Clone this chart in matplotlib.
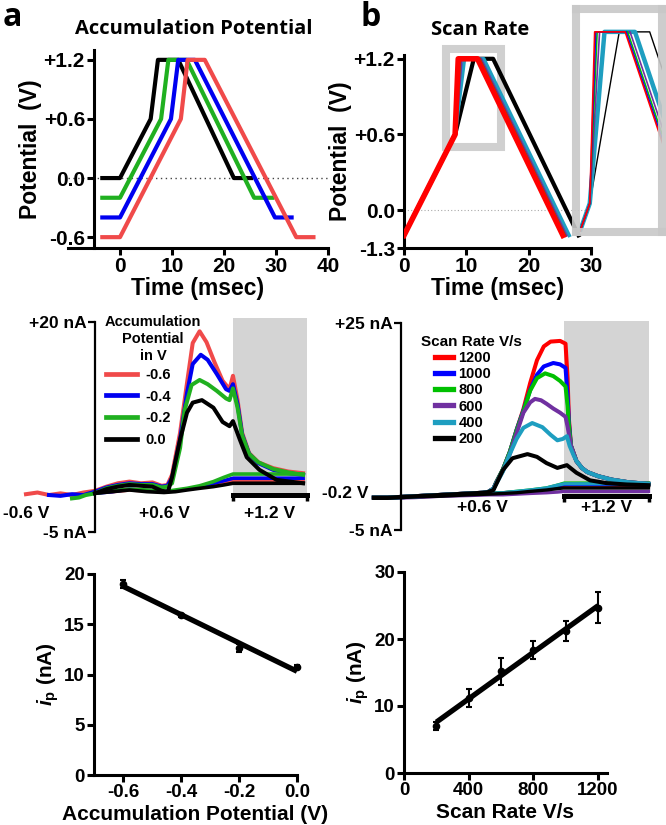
import numpy as np
import matplotlib.pyplot as plt
from matplotlib.patches import Rectangle

plt.rcParams['font.family'] = ['Liberation Sans', 'DejaVu Sans']
plt.rcParams['font.weight'] = 'bold'
plt.rcParams['axes.labelweight'] = 'bold'
plt.rcParams['mathtext.fontset'] = 'custom'
plt.rcParams['mathtext.rm'] = 'Liberation Sans:bold'
plt.rcParams['mathtext.it'] = 'Liberation Sans:italic:bold'
plt.rcParams['mathtext.bf'] = 'Liberation Sans:bold'

# ---------------- data ----------------
# a: accumulation potentials
acc_labels = ['-0.6', '-0.4', '-0.2', '0.0']
acc_colors = ['#f04a4a', '#0000f0', '#20b020', '#000000']

# a top: waveform breakpoints (msec / V)
wave_a_t = [[-3.4, 0.0, 11.7, 13.0, 16.3, 33.9, 37.2],
            [-3.4, 0.0, 9.8, 11.2, 14.4, 29.8, 33.0],
            [-3.4, 0.0, 7.9, 9.3, 12.8, 25.8, 29.3],
            [-3.4, 0.0, 5.9, 7.3, 11.2, 21.9, 25.2]]
wave_a_v = [[-0.6, -0.6, 0.6, 1.2, 1.2, -0.6, -0.6],
            [-0.4, -0.4, 0.6, 1.2, 1.2, -0.4, -0.4],
            [-0.2, -0.2, 0.6, 1.2, 1.2, -0.2, -0.2],
            [0.0, 0.0, 0.6, 1.2, 1.2, 0.0, 0.0]]

# b: scan rates
rate_labels = ['1200', '1000', '800', '600', '400', '200']
rate_colors = ['#ff0000', '#0000ff', '#00c000', '#7030a0', '#1e9ec0', '#000000']
wave_b_t = [[0.0, 8.2, 8.7, 11.8, 25.5],
            [0.0, 8.2, 8.8, 11.9, 25.6],
            [0.0, 8.2, 8.95, 12.05, 25.75],
            [0.0, 8.2, 9.2, 12.3, 26.0],
            [0.0, 8.2, 9.7, 12.8, 26.5],
            [0.0, 8.2, 11.2, 14.3, 28.0]]
wave_b_v = [-0.2, 0.6, 1.2, 1.2, -0.2]
zoom_t = (6.8, 15.5)
zoom_v = (0.5, 1.28)

# a middle: voltammograms (V, nA), hold at +1.2 V shown from 1.2 to 1.84
red_a_v = [-0.60, -0.50, -0.40, -0.30, -0.20, -0.10, 0.00, 0.10, 0.20, 0.30, 0.40, 0.50, 0.58, 0.63,
           0.67, 0.74, 0.80, 0.85, 0.91, 0.97, 1.04, 1.11, 1.17, 1.20, 1.24, 1.28, 1.34, 1.42, 1.55, 1.68, 1.81]
red_a_i = [-0.5, -0.3, -0.6, -0.4, -0.6, -0.3, -0.1, 0.4, 0.8, 1.0, 0.8, 0.9, 0.5, 0.6,
           1.8, 6.8, 12.7, 17.5, 18.9, 17.6, 15.2, 13.0, 12.0, 13.6, 10.7, 6.8, 4.4, 3.3, 2.6, 2.2, 2.0]
blue_a_v = [-0.40, -0.30, -0.20, -0.10, 0.00, 0.10, 0.20, 0.30, 0.40, 0.50, 0.58, 0.63, 0.67, 0.74,
            0.80, 0.85, 0.92, 0.98, 1.06, 1.14, 1.17, 1.20, 1.24, 1.28, 1.34, 1.42, 1.55, 1.68, 1.81]
blue_a_i = [-0.6, -0.7, -0.5, -0.6, -0.2, 0.3, 0.6, 0.8, 0.7, 0.7, 0.4, 0.5, 1.4, 6.0,
            11.5, 15.0, 16.1, 15.5, 13.8, 12.0, 11.8, 12.6, 10.2, 6.6, 4.3, 3.2, 2.4, 2.0, 1.8]
green_a_v = [-0.20, -0.14, -0.08, 0.00, 0.10, 0.20, 0.30, 0.40, 0.50, 0.58, 0.63, 0.67, 0.74, 0.78,
             0.84, 0.91, 0.98, 1.06, 1.14, 1.17, 1.20, 1.24, 1.28, 1.34, 1.42, 1.55, 1.68, 1.81]
green_a_i = [-1.0, -0.9, -0.6, -0.4, 0.2, 0.5, 0.7, 0.6, 0.6, 0.3, 0.4, 0.8, 5.0, 9.5,
             12.5, 13.1, 12.6, 11.8, 10.9, 10.7, 12.1, 9.8, 6.5, 4.3, 3.3, 2.5, 2.1, 1.8]
black_a_v = [0.00, 0.10, 0.20, 0.30, 0.40, 0.50, 0.58, 0.635, 0.67, 0.74, 0.80, 0.85, 0.93, 1.03,
             1.11, 1.17, 1.20, 1.26, 1.32, 1.43, 1.58, 1.81]
black_a_i = [-0.4, 0.1, 0.4, 0.6, 0.5, 0.4, -0.1, -0.2, 1.5, 6.0, 9.2, 10.4, 10.7, 9.8,
             8.1, 7.6, 8.2, 6.0, 3.9, 2.4, 1.2, 0.8]
ret_a_v = [1.81, 1.20, 1.12, 1.03, 0.91, 0.80, 0.70, 0.60, 0.45, 0.30, 0.15, 0.00]
ret_red_a = [1.1, 1.1, 0.9, 0.6, 0.3, 0.1, -0.1, -0.2, -0.1, 0.0, -0.2, -0.3]
ret_blue_a = [1.4, 1.4, 1.1, 0.8, 0.4, 0.1, -0.1, -0.2, -0.1, 0.1, -0.2, -0.4]
ret_green_a = [1.9, 1.9, 1.5, 1.0, 0.5, 0.2, 0.0, -0.2, 0.0, 0.1, -0.1, -0.4]
ret_black_a = [0.8, 0.8, 0.6, 0.4, 0.2, 0.0, -0.2, -0.3, -0.2, 0.0, -0.2, -0.4]

# b middle: voltammograms (V, nA), hold shown from 1.2 to 1.825
base_b_v = [-0.20, -0.10, 0.00, 0.10, 0.20, 0.30, 0.40, 0.50, 0.60, 0.64]
base_b_i = [-0.3, -0.3, -0.2, -0.1, 0.0, 0.1, 0.2, 0.3, 0.4, 0.5]
decay_b_v = [1.29, 1.33, 1.37, 1.45, 1.55, 1.68, 1.82]
decay_b_i = [5.0, 4.0, 3.4, 2.8, 2.3, 1.9, 1.7]
peak1200_v = [0.68, 0.70, 0.75, 0.80, 0.85, 0.90, 0.95, 1.00, 1.05, 1.10, 1.17, 1.21, 1.225, 1.235, 1.25]
peak1200_i = [1.0, 1.9, 3.8, 6.3, 9.5, 12.5, 16.3, 19.6, 21.6, 22.3, 22.4, 22.0, 17.0, 11.0, 7.2]
peak1000_v = [0.68, 0.70, 0.75, 0.80, 0.85, 0.90, 0.95, 1.00, 1.05, 1.12, 1.17, 1.21, 1.225, 1.235, 1.25]
peak1000_i = [1.0, 1.9, 3.8, 6.3, 9.5, 12.3, 15.3, 17.5, 18.7, 19.2, 19.0, 18.5, 14.5, 10.5, 7.2]
peak800_v = [0.68, 0.70, 0.75, 0.80, 0.85, 0.90, 0.95, 1.00, 1.06, 1.12, 1.17, 1.21, 1.225, 1.235, 1.25]
peak800_i = [1.0, 1.9, 3.8, 6.3, 9.4, 12.2, 15.2, 17.0, 17.7, 17.3, 16.6, 15.8, 13.0, 10.0, 7.2]
peak600_v = [0.68, 0.70, 0.75, 0.80, 0.85, 0.90, 0.95, 0.985, 1.03, 1.07, 1.12, 1.17, 1.21, 1.225, 1.25]
peak600_i = [1.0, 1.8, 3.6, 6.0, 9.0, 12.0, 13.5, 14.0, 13.8, 13.3, 12.6, 12.0, 11.4, 10.0, 7.2]
peak400_v = [0.68, 0.70, 0.75, 0.80, 0.85, 0.90, 0.965, 1.04, 1.10, 1.15, 1.19, 1.22, 1.24, 1.27]
peak400_i = [1.0, 1.7, 3.5, 6.0, 8.2, 9.8, 10.5, 9.9, 8.8, 8.0, 8.2, 8.6, 7.2, 5.8]
peak200_v = [0.68, 0.75, 0.82, 0.93, 1.00, 1.07, 1.15, 1.22, 1.29, 1.39, 1.51, 1.66, 1.82]
peak200_i = [0.8, 3.7, 5.4, 6.0, 5.6, 4.7, 4.0, 4.4, 3.3, 2.2, 1.8, 1.6, 1.5]
ret_b_v = [1.82, 1.20, 1.15, 1.07, 0.95, 0.85, 0.75, 0.65, 0.50, 0.30, 0.10, -0.10, -0.20]
ret_b_i = [[1.5, 1.5, 1.3, 1.0, 0.7, 0.5, 0.4, 0.3, 0.2, 0.0, -0.2, -0.4, -0.4],
           [1.6, 1.6, 1.4, 1.0, 0.7, 0.5, 0.4, 0.3, 0.2, 0.0, -0.2, -0.4, -0.4],
           [1.8, 1.8, 1.5, 1.1, 0.8, 0.6, 0.4, 0.3, 0.2, 0.0, -0.2, -0.4, -0.4],
           [0.6, 0.6, 0.5, 0.4, 0.3, 0.2, 0.1, 0.1, 0.0, -0.1, -0.3, -0.4, -0.4],
           [1.7, 1.7, 1.5, 1.1, 0.8, 0.6, 0.4, 0.3, 0.2, 0.0, -0.2, -0.4, -0.4],
           [1.1, 1.1, 1.0, 0.8, 0.6, 0.4, 0.3, 0.2, 0.1, -0.1, -0.2, -0.4, -0.4]]

# bottom: peak currents
acc_x = [-0.6, -0.4, -0.2, 0.0]
acc_ip = [19.0, 15.9, 12.6, 10.7]
acc_err = [0.4, 0.15, 0.4, 0.2]
rate_x = [200, 400, 600, 800, 1000, 1200]
rate_ip = [7.0, 11.2, 15.2, 18.4, 21.2, 24.7]
rate_err = [0.6, 1.3, 2.0, 1.35, 1.5, 2.25]

hold_a = (1.2, 1.84)
hold_b = (1.2, 1.825)

# ---------------- figure ----------------
W, H = 666, 825
fig = plt.figure(figsize=(W / 100, H / 100), dpi=100)


def box(x0, y0, x1, y1):
    # pixel box measured from the top left -> figure fraction
    return [x0 / W, 1 - y1 / H, (x1 - x0) / W, (y1 - y0) / H]


def prism(ax, lw=2.2, tick=5):
    ax.spines['top'].set_visible(False)
    ax.spines['right'].set_visible(False)
    ax.spines['left'].set_linewidth(lw)
    ax.spines['bottom'].set_linewidth(lw)
    ax.tick_params(width=lw, length=tick, pad=1.5)
    ax.patch.set_alpha(0)


# ---- a top: waveforms ----
ax = fig.add_axes(box(68, 50, 328, 248))
prism(ax)
ax.spines['left'].set_position(('data', -5))
ax.axhline(0, color='#444444', lw=1, ls=(0, (1, 2.5)), zorder=0)
for t, v, c in reversed(list(zip(wave_a_t, wave_a_v, acc_colors))):
    ax.plot(t, v, color=c, lw=3)
ax.set_xlim(-10, 40)
ax.set_ylim(-0.71, 1.30)
ax.set_xticks([0, 10, 20, 30, 40])
ax.set_yticks([-0.6, 0, 0.6, 1.2], labels=['-0.6', '0.0', '+0.6', '+1.2'])
ax.tick_params(labelsize=15)
ax.set_xlabel('Time (msec)', fontsize=16.5, labelpad=1)
ax.set_ylabel('Potential  (V)', fontsize=16.5, labelpad=1)

# ---- b top: waveforms ----
ax = fig.add_axes(box(404, 55, 591, 248))
prism(ax)
ax.axhline(0, color='#aaaaaa', lw=0.8, ls=(0, (1, 2)), zorder=0)
lw_b = [4.0, 2.2, 2.2, 2.2, 2.6, 3.0]
for t, c, w in reversed(list(zip(wave_b_t, rate_colors, lw_b))):
    ax.plot(t, wave_b_v, color=c, lw=w, zorder=3)
ax.add_patch(Rectangle((zoom_t[0], zoom_v[0]), zoom_t[1] - zoom_t[0], zoom_v[1] - zoom_v[0],
                       fill=False, ec='#c8c8c8', lw=5.8, alpha=0.85, zorder=2.5, clip_on=False))
ax.set_xlim(0, 30)
ax.set_ylim(-0.3, 1.23)
ax.set_xticks([0, 10, 20, 30])
ax.set_yticks([-0.3, 0, 0.6, 1.2], labels=['-1.3', '0.0', '+0.6', '+1.2'])
ax.tick_params(labelsize=15)
ax.set_xlabel('Time (msec)', fontsize=16.5, labelpad=1)
ax.set_ylabel('Potential  (V)', fontsize=16.5, labelpad=1)

# inset (zoom of the grey box)
axi = fig.add_axes(box(576, 9, 661.5, 232))
axi.patch.set_alpha(0)
lw_i = [1.2, 1.2, 1.2, 1.2, 3.2, 1.0]
for t, c, w in reversed(list(zip(wave_b_t, rate_colors, lw_i))):
    axi.plot(t, wave_b_v, color=c, lw=w)
axi.set_xlim(zoom_t)
axi.set_ylim(zoom_v)
axi.set_xticks([])
axi.set_yticks([])
for sp in axi.spines.values():
    sp.set_color('#c8c8c8')
    sp.set_linewidth(5.8)
    sp.set_alpha(0.9)

# ---- a middle: voltammograms ----
ax = fig.add_axes(box(20, 318, 310, 535))
ax.patch.set_alpha(0)
ax.add_patch(Rectangle((hold_a[0], -0.6), hold_a[1] - hold_a[0], 21.1, color='#d4d4d4', lw=0, zorder=0))
fwd_a = [(red_a_v, red_a_i), (blue_a_v, blue_a_i), (green_a_v, green_a_i), (black_a_v, black_a_i)]
ret_a = [ret_red_a, ret_blue_a, ret_green_a, ret_black_a]
lines_a = []
for (v, i), r, c, lab in zip(fwd_a, ret_a, acc_colors, acc_labels):
    ax.plot(ret_a_v, r, color=c, lw=2.6, solid_joinstyle='round')
    ln, = ax.plot(v, i, color=c, lw=2.9, solid_joinstyle='round', label=lab)
    lines_a.append(ln)
ax.set_xlim(-0.652, 1.870)
ax.set_ylim(-5.36, 20.48)
ax.spines['top'].set_visible(False)
ax.spines['right'].set_visible(False)
ax.spines['left'].set_position(('data', 0))
ax.spines['left'].set_bounds(-5, 20)
ax.spines['left'].set_linewidth(1.6)
ax.spines['bottom'].set_position(('data', -0.6))
ax.spines['bottom'].set_bounds(*hold_a)
ax.spines['bottom'].set_linewidth(3.6)
ax.set_yticks([-5, 20], labels=['-5 nA', '+20 nA'])
ax.set_xticks(list(hold_a), labels=['', ''])
ax.tick_params(axis='y', width=1.6, length=5, pad=1, labelsize=12.5)
ax.tick_params(axis='x', width=2.5, length=4)
ax.text(-0.6, -2.75, '-0.6 V', ha='center', va='center', fontsize=12.5)
ax.text(0.6, -2.75, '+0.6 V', ha='center', va='center', fontsize=12.5)
ax.text(sum(hold_a) / 2, -2.75, '+1.2 V', ha='center', va='center', fontsize=12.5)
fig.text(153 / W, 1 - 339 / H, 'Accumulation\nPotential\nin V', ha='center', va='center',
         fontsize=10.5, linespacing=1.25)
leg = ax.legend(handles=lines_a, loc='upper left', bbox_to_anchor=(106 / W, 1 - 368 / H),
                bbox_transform=fig.transFigure, frameon=False, fontsize=10.5, borderpad=0,
                borderaxespad=0, handlelength=2.1, handletextpad=0.6, labelspacing=0.52)
for h in leg.legend_handles:
    h.set_linewidth(3.4)

# ---- b middle: voltammograms ----
ax = fig.add_axes(box(370, 318, 655, 535))
ax.patch.set_alpha(0)
ax.add_patch(Rectangle((hold_b[0], -0.1), hold_b[1] - hold_b[0], 25.4, color='#d4d4d4', lw=0, zorder=0))
peaks_b = [(peak1200_v, peak1200_i), (peak1000_v, peak1000_i), (peak800_v, peak800_i),
           (peak600_v, peak600_i), (peak400_v, peak400_i)]
lines_b = []
for k, (c, lab) in enumerate(zip(rate_colors, rate_labels)):
    if k < 5:
        v = base_b_v + peaks_b[k][0] + decay_b_v
        i = base_b_i + peaks_b[k][1] + decay_b_i
    else:
        v = base_b_v + peak200_v
        i = base_b_i + peak200_i
    ax.plot(ret_b_v, ret_b_i[k], color=c, lw=2.4, solid_joinstyle='round')
    ln, = ax.plot(v, i, color=c, lw=2.9, solid_joinstyle='round', label=lab)
    lines_b.append(ln)
ax.set_xlim(-0.228, 1.868)
ax.set_ylim(-5.72, 25.72)
ax.spines['top'].set_visible(False)
ax.spines['right'].set_visible(False)
ax.spines['left'].set_position(('data', 0))
ax.spines['left'].set_bounds(-5, 25)
ax.spines['left'].set_linewidth(1.6)
ax.spines['bottom'].set_position(('data', -0.1))
ax.spines['bottom'].set_bounds(*hold_b)
ax.spines['bottom'].set_linewidth(3.6)
ax.set_yticks([-5, 25], labels=['-5 nA', '+25 nA'])
ax.set_xticks(list(hold_b), labels=['', ''])
ax.tick_params(axis='y', width=1.6, length=5, pad=1, labelsize=12.5)
ax.tick_params(axis='x', width=2.5, length=4)
ax.text(-0.24, 0.3, '-0.2 V', ha='right', va='center', fontsize=12.5)
ax.text(0.6, -1.7, '+0.6 V', ha='center', va='center', fontsize=12.5)
ax.text(sum(hold_b) / 2, -1.7, '+1.2 V', ha='center', va='center', fontsize=12.5)
fig.text(421 / W, 1 - 342 / H, 'Scan Rate V/s', ha='left', va='center', fontsize=11)
leg = ax.legend(handles=lines_b, loc='upper left', bbox_to_anchor=(435 / W, 1 - 351 / H),
                bbox_transform=fig.transFigure, frameon=False, fontsize=10.5, borderpad=0,
                borderaxespad=0, handlelength=1.2, handletextpad=0.4, labelspacing=0.15)
for h in leg.legend_handles:
    h.set_linewidth(3.8)

# ---- a bottom: ip vs accumulation potential ----
ax = fig.add_axes(box(94, 574, 297, 775))
prism(ax)
fit = np.polyfit(acc_x, acc_ip, 1)
xs = np.array([min(acc_x), max(acc_x)])
ax.plot(xs, np.polyval(fit, xs), color='black', lw=3.8, solid_capstyle='butt')
ax.errorbar(acc_x, acc_ip, yerr=acc_err, fmt='o', color='black', ms=4.5, elinewidth=1.5,
            capsize=2.5, capthick=1.5, clip_on=False)
ax.set_xlim(-0.7, 0.0)
ax.set_ylim(0, 20)
ax.set_xticks([-0.6, -0.4, -0.2, 0.0], labels=['-0.6', '-0.4', '-0.2', '0.0'])
ax.set_yticks([0, 5, 10, 15, 20])
ax.tick_params(labelsize=13.5)
ax.set_xlabel('Accumulation Potential (V)', fontsize=15, labelpad=3)
ax.set_ylabel(r'$i_\mathrm{p}$ (nA)', fontsize=15, labelpad=2)

# ---- b bottom: ip vs scan rate ----
ax = fig.add_axes(box(404, 572, 607, 773))
prism(ax)
fit = np.polyfit(rate_x, rate_ip, 1)
xs = np.array([min(rate_x), max(rate_x)])
ax.plot(xs, np.polyval(fit, xs), color='black', lw=3.8, solid_capstyle='butt')
ax.errorbar(rate_x, rate_ip, yerr=rate_err, fmt='o', color='black', ms=4.5, elinewidth=1.5,
            capsize=2.5, capthick=1.5, clip_on=False)
ax.set_xlim(0, 1255)
ax.set_ylim(0, 30)
ax.set_xticks([0, 400, 800, 1200])
ax.set_yticks([0, 10, 20, 30])
ax.tick_params(labelsize=13.5)
ax.set_xlabel('Scan Rate V/s', fontsize=15, labelpad=3)
ax.set_ylabel(r'$i_\mathrm{p}$ (nA)', fontsize=15, labelpad=2)

# ---- titles and panel letters ----
fig.text(194 / W, 1 - 29 / H, 'Accumulation Potential', ha='center', va='center',
         family='Open Sans', weight='bold', fontsize=14.5)
fig.text(480 / W, 1 - 30 / H, 'Scan Rate', ha='center', va='center',
         family='Open Sans', weight='bold', fontsize=14.5)
fig.text(12 / W, 1 - 26 / H, 'a', ha='center', va='baseline', family='Open Sans',
         weight='bold', fontsize=23)
fig.text(371 / W, 1 - 26 / H, 'b', ha='center', va='baseline', family='Open Sans',
         weight='bold', fontsize=23)

fig.savefig('out.png', dpi=100)
